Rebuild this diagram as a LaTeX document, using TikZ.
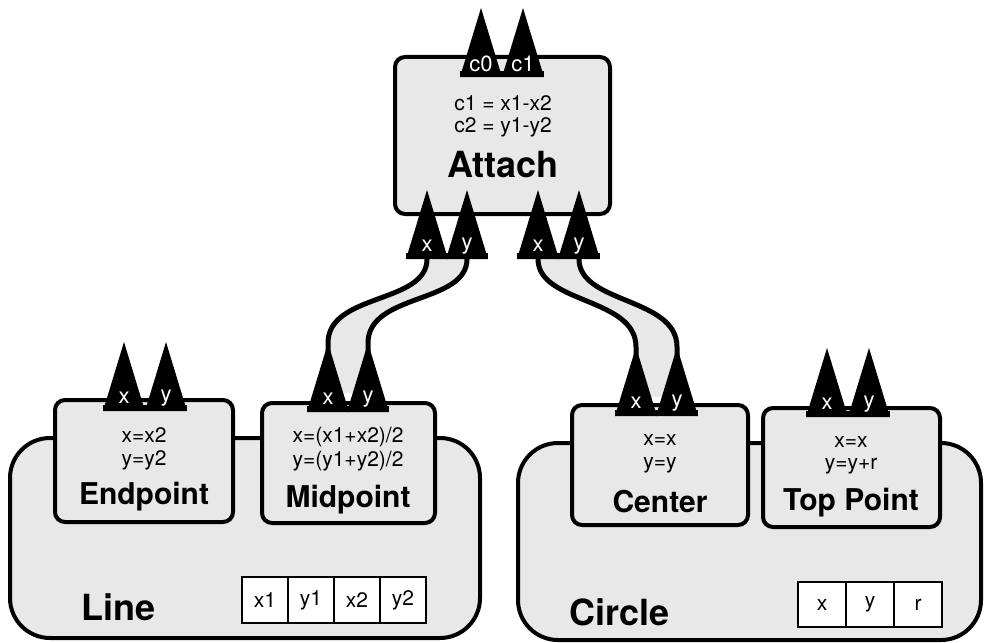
\documentclass[tikz,border=0pt]{standalone}
\usepackage{fontspec}
\setmainfont{TeX Gyre Heros}
\definecolor{panelgray}{gray}{0.91}

\begin{document}
\begin{tikzpicture}[x=1pt, y=-1pt,
    panel/.style={draw, line width=4pt, fill=panelgray, rounded corners=10pt, inner sep=0pt},
    bigpanel/.style={panel, rounded corners=40pt},
    rule/.style={font=\fontsize{21}{24}\selectfont, inner sep=0pt},
    title/.style={font=\fontsize{30}{34}\selectfont\bfseries, inner sep=0pt},
    bigtitle/.style={font=\fontsize{36}{40}\selectfont\bfseries, inner sep=0pt},
    cell/.style={draw, line width=1.6pt, fill=white, minimum width=46pt, minimum height=46pt,
      inner sep=0pt, font=\fontsize{21}{24}\selectfont},
    portlabel/.style={text=white, inner sep=0pt, font=\fontsize{22}{24}\selectfont},
    wire/.style={line width=5pt},
  ]
  \useasboundingbox (0,0) rectangle (984,642);

  % the two shapes
  \node[bigpanel, minimum width=470pt, minimum height=200pt] (line) at (245,538) {};
  \node[bigpanel, minimum width=463pt, minimum height=197pt] (circle) at (749.5,541.5) {};
  \node[bigtitle, anchor=west] (line-name) at (81,607) {Line};
  \node[bigtitle, anchor=west] (circle-name) at (569,612) {Circle};

  \foreach \v [count=\i] in {x1,y1,x2,y2}
    \node[cell] (line-\v) at ({242+46*\i-23},600) {\v};
  \foreach \v [count=\i] in {x,y,r}
    \node[cell, minimum width=48pt, minimum height=45pt] (circle-\v) at ({798+48*\i-24},604.5) {\v};

  % the point boxes
  \node[panel, minimum width=178pt, minimum height=122pt] (endpoint) at (144,461) {};
  \node[panel, minimum width=173pt, minimum height=120pt] (midpoint) at (348.5,463) {};
  \node[panel, minimum width=176pt, minimum height=120pt] (center) at (660,465) {};
  \node[panel, minimum width=177pt, minimum height=119pt] (toppoint) at (851.5,467.5) {};
  \node[panel, minimum width=215pt, minimum height=157pt] (attach) at (502.5,135.5) {};

  \node[rule] (endpoint-x) at (144,435) {x=x2};
  \node[rule] (endpoint-y) at (144,460) {y=y2};
  \node[title] (endpoint-name) at (144,497) {Endpoint};

  \node[rule] (midpoint-x) at (348,437) {x=(x1+x2)/2};
  \node[rule] (midpoint-y) at (348,461) {y=(y1+y2)/2};
  \node[title] (midpoint-name) at (348,500) {Midpoint};

  \node[rule] (center-x) at (660,440) {x=x};
  \node[rule] (center-y) at (660,465) {y=y};
  \node[title] (center-name) at (660,502) {Center};

  \node[rule] (toppoint-x) at (851,442) {x=x};
  \node[rule] (toppoint-y) at (851,466) {y=y+r};
  \node[title] (toppoint-name) at (851,503) {Top Point};

  \node[rule] (attach-c1) at (503,103) {c1 = x1-x2};
  \node[rule] (attach-c2) at (503,127) {c2 = y1-y2};
  \node[bigtitle] (attach-name) at (503,165) {Attach};

  % port positions: name / left x / right x / apex y
  \def\ports{top/481/523/8, att1/427/467/190, att2/538/579/190, end/124/166/342,
    mid/328/368/343, cen/636/677/347, tp/827/869/348}
  \foreach \nm/\lx/\rx/\py in \ports{
    \coordinate (\nm-l-tip) at (\lx,\py);
    \coordinate (\nm-r-tip) at (\rx,\py);
    \coordinate (\nm-l-base) at (\lx,\py+69);
    \coordinate (\nm-r-base) at (\rx,\py+69);
  }

  % cables from Attach down to the points
  \fill[panelgray] (att1-l-base) .. controls +(0,45) and +(0,-50) .. (mid-l-tip)
    -- ++(0,50) -| (mid-r-tip) .. controls +(0,-50) and +(0,45) .. (att1-r-base) -- cycle;
  \draw[wire] (att1-l-base) .. controls +(0,45) and +(0,-50) .. (mid-l-tip) -- ++(0,12);
  \draw[wire] (att1-r-base) .. controls +(0,45) and +(0,-50) .. (mid-r-tip) -- ++(0,12);

  \fill[panelgray] (att2-l-base) .. controls +(0,45) and +(0,-50) .. (cen-l-tip)
    -- ++(0,50) -| (cen-r-tip) .. controls +(0,-50) and +(0,45) .. (att2-r-base) -- cycle;
  \draw[wire] (att2-l-base) .. controls +(0,45) and +(0,-50) .. (cen-l-tip) -- ++(0,12);
  \draw[wire] (att2-r-base) .. controls +(0,45) and +(0,-50) .. (cen-r-tip) -- ++(0,12);

  % ports: two tall triangles each
  \foreach \nm/\lx/\rx/\py/\ll/\rl in {top/481/523/8/c0/c1, att1/427/467/190/x/y,
      att2/538/579/190/x/y, end/124/166/342/x/y, mid/328/368/343/x/y,
      cen/636/677/347/x/y, tp/827/869/348/x/y}{
    \fill (\lx-21,\py+69) -- (\nm-l-tip) -- (\lx+21,\py+69) -- cycle;
    \fill (\rx-21,\py+69) -- (\nm-r-tip) -- (\rx+21,\py+69) -- cycle;
    \fill (\lx-21,\py+63) rectangle (\rx+21,\py+69);
    \node[portlabel] (\nm-l) at (\lx,\py+56) {\ll};
    \node[portlabel] (\nm-r) at (\rx,\py+56) {\rl};
  }
\end{tikzpicture}
\end{document}
